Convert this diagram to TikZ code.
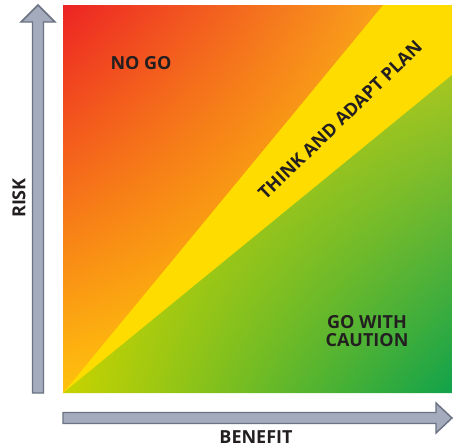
\documentclass[tikz,border=0pt]{standalone}
\usepackage{fontspec}
\setmainfont{Open Sans}
\usetikzlibrary{shadings}
\begin{document}
\begin{tikzpicture}[x=0.75pt,y=-0.75pt,
  lbl/.style={font=\bfseries\fontsize{13.5}{16}\selectfont, text=txt, inner sep=0pt, align=center},
  axisarrow/.style={fill=arrfill, draw=arrline, line width=1.1pt, line join=miter}]
\definecolor{cRed}{HTML}{ED2324}
\definecolor{cOrg}{HTML}{F9A11B}
\definecolor{cAmb}{HTML}{FFC20E}
\definecolor{cYel}{HTML}{FFDC00}
\definecolor{gUL}{HTML}{D4D600}
\definecolor{gUR}{HTML}{A6C620}
\definecolor{gLL}{HTML}{C8D300}
\definecolor{gLR}{HTML}{10A24B}
\definecolor{txt}{HTML}{231F20}
\definecolor{arrfill}{HTML}{A3ABBD}
\definecolor{arrline}{HTML}{6B7282}
\useasboundingbox (0,0) rectangle (454,447);
% yellow band base
\fill[cYel] (63,5) rectangle (452,393);
% orange / red region
\begin{scope}
\clip (63,393) -- (63,5) -- (383,5) -- cycle;
\shade[upper left=cRed, upper right=cOrg, lower left=cAmb, lower right=cYel] (63,5) rectangle (383,393);
\end{scope}
% green region
\begin{scope}
\clip (63,393) -- (452,393) -- (452,75) -- cycle;
\shade[upper left=gUL, upper right=gUR, lower left=gLL, lower right=gLR] (63,75) rectangle (452,393);
\end{scope}
% axes arrows
\draw[axisarrow] (32.5,393) -- (32.5,22) -- (21,22) -- (38,5) -- (55,22) -- (43.5,22) -- (43.5,393) -- cycle;
\draw[axisarrow] (63,412.5) -- (436,412.5) -- (436,403) -- (452,418) -- (436,433) -- (436,423.5) -- (63,423.5) -- cycle;
% labels
\node[lbl] (nogo) at (141,63) {NO GO};
\node[lbl, rotate=44] (think) at (340,120) {THINK AND ADAPT PLAN};
\node[lbl] (gowith) at (367,331) {GO WITH\\[-3pt]CAUTION};
\node[lbl, rotate=90] (risk) at (19,198) {RISK};
\node[lbl] (benefit) at (256,437) {BENEFIT};
\end{tikzpicture}
\end{document}
